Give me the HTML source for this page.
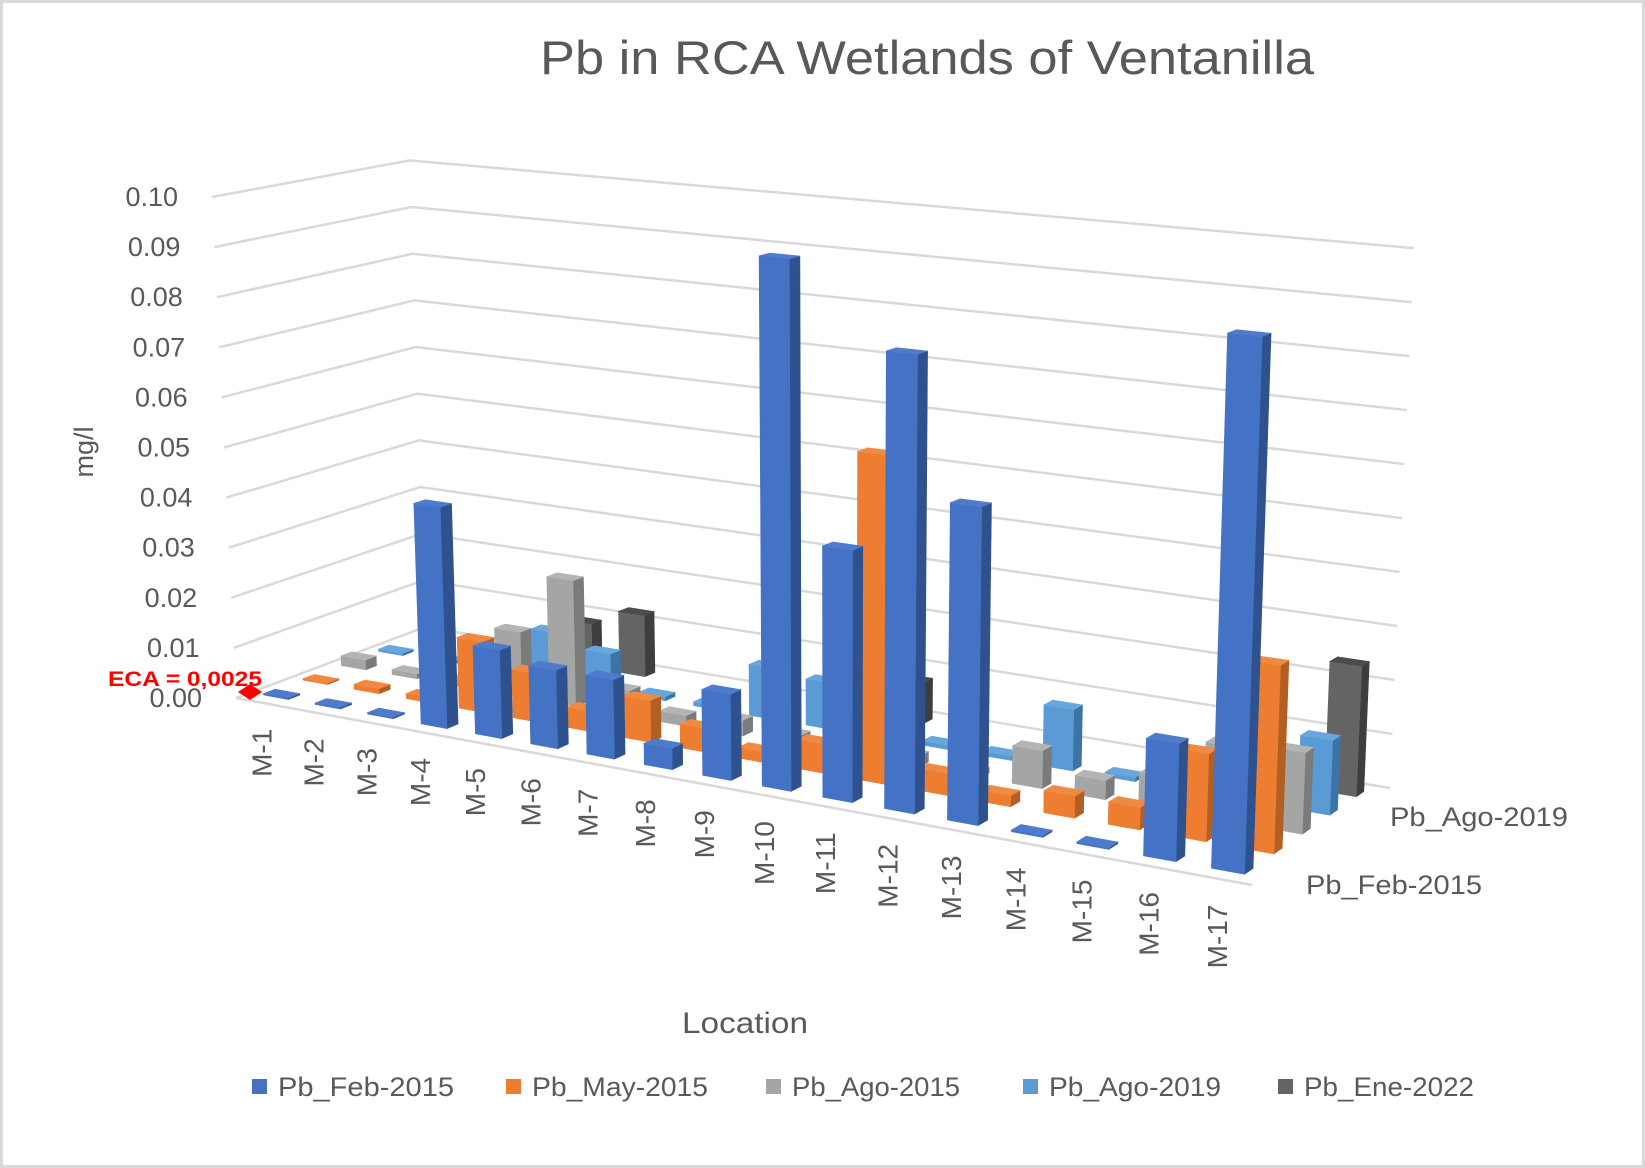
<!DOCTYPE html>
<html><head><meta charset="utf-8"><style>
html,body{margin:0;padding:0;background:#fff;}
svg{display:block;font-family:"Liberation Sans",sans-serif;}
</style></head><body>
<svg id="chart" width="1645" height="1168" viewBox="0 0 1645 1168" xmlns="http://www.w3.org/2000/svg">
<rect x="1.5" y="1.5" width="1642" height="1165" fill="#fff" stroke="#d9d9d9" stroke-width="3"/>
<text x="927" y="74" text-anchor="middle" font-size="47" fill="#595959" textLength="774" lengthAdjust="spacingAndGlyphs">Pb in RCA Wetlands of Ventanilla</text>
<g id="grid"></g>
<g id="ylabels"></g>
<text transform="translate(93,452) rotate(-90)" text-anchor="middle" font-size="27" fill="#595959">mg/l</text>
<g id="bars"></g>
<g id="xlabels"></g>
<text x="1306" y="894" font-size="27" fill="#595959" textLength="176" lengthAdjust="spacingAndGlyphs">Pb_Feb-2015</text>
<text x="1390" y="826" font-size="27" fill="#595959" textLength="178" lengthAdjust="spacingAndGlyphs">Pb_Ago-2019</text>
<text x="745" y="1033" text-anchor="middle" font-size="30" fill="#595959" textLength="126" lengthAdjust="spacingAndGlyphs">Location</text>
<text x="108" y="686" font-size="21" font-weight="bold" fill="#ff0000" textLength="154" lengthAdjust="spacingAndGlyphs">ECA = 0,0025</text>
<polygon points="238,692 250,684 262,692 250,700" fill="#ff0000"/>
<g id="legend"></g>
</svg>
<script>
const categories = ["M-1","M-2","M-3","M-4","M-5","M-6","M-7","M-8","M-9","M-10","M-11","M-12","M-13","M-14","M-15","M-16","M-17"];
const seriesNames = ["Pb_Feb-2015","Pb_May-2015","Pb_Ago-2015","Pb_Ago-2019","Pb_Ene-2022"];
const febValues2015 = [0.0003,0.0003,0.0003,0.043,0.017,0.015,0.015,0.004,0.016,0.098,0.046,0.083,0.057,0.0003,0.0003,0.0205,0.0925];
const mayValues2015 = [0.0003,0.001,0.001,0.014,0.0095,0.004,0.008,0.0045,0.002,0.0055,0.061,0.004,0.002,0.004,0.004,0.0155,0.033];
const agoValues2015 = [0.002,0.001,0.001,0.013,0.025,0.005,0.002,0.003,0.002,0.001,0.002,0.001,0.007,0.0035,0.006,0.0135,0.0145];
const agoValues2019 = [0.0005,0.0005,0,0.010,0.0075,0.0008,0.0008,0.010,0.009,0,0.0008,0.0008,0.0115,0.0008,0,0,0.0135];
const eneValues2022 = [0,0,0,0.009,0.0125,0,0,0,0,0.008,0,0,0,0,0,0,0.024];
const yTicks = [0,0.01,0.02,0.03,0.04,0.05,0.06,0.07,0.08,0.09,0.10];
const yTickLabels = ["0.00","0.01","0.02","0.03","0.04","0.05","0.06","0.07","0.08","0.09","0.10"];

const allSeries = [febValues2015, mayValues2015, agoValues2015, agoValues2019, eneValues2022];
const colors = [
  {f:"#4472C4",s:"#2F528F",t:"#4E7BCB"},
  {f:"#ED7D31",s:"#B35E22",t:"#F08A42"},
  {f:"#A5A5A5",s:"#7B7B7B",t:"#B4B4B4"},
  {f:"#5B9BD5",s:"#3C74A6",t:"#68A6DC"},
  {f:"#646464",s:"#3E3E3E",t:"#4C4C4C"}
];
const NS = "http://www.w3.org/2000/svg";
const P0=[236,698],P1=[1252,885],P2=[1390,788],P3=[425,627];
const dx1=P1[0]-P2[0],dx2=P3[0]-P2[0],dx3=P0[0]-P1[0]+P2[0]-P3[0];
const dy1=P1[1]-P2[1],dy2=P3[1]-P2[1],dy3=P0[1]-P1[1]+P2[1]-P3[1];
const den=dx1*dy2-dx2*dy1;
const g=(dx3*dy2-dx2*dy3)/den, h=(dx1*dy3-dx3*dy1)/den;
const a=P1[0]-P0[0]+g*P1[0], b=P3[0]-P0[0]+h*P3[0], c=P0[0];
const d=P1[1]-P0[1]+g*P1[1], e=P3[1]-P0[1]+h*P3[1], f=P0[1];
const S0=5010;
function proj(u,w,v){
  const D=g*u+h*w+1;
  let X=(a*u+b*w+c)/D, Y=(d*u+e*w+f)/D;
  const hp=v*S0/D;
  X+=(X-834)*8e-5*hp;
  Y-=hp;
  return [X,Y];
}
function pts(arr){return arr.map(p=>p[0].toFixed(1)+","+p[1].toFixed(1)).join(" ");}

const grid=document.getElementById("grid");
yTicks.forEach((v,i)=>{
  const pl=document.createElementNS(NS,"polyline");
  
  
  pl.setAttribute("points",pts([proj(0,0,v),proj(0,1,v),proj(1,1,v)]));
  pl.setAttribute("fill","none");pl.setAttribute("stroke","#d9d9d9");pl.setAttribute("stroke-width","2.5");
  grid.appendChild(pl);
  const p=proj(0,0,v);
  const t=document.createElementNS(NS,"text");
  
  
  t.setAttribute("x",(p[0]-34).toFixed(1));t.setAttribute("y",(p[1]+9).toFixed(1));
  t.setAttribute("text-anchor","end");t.setAttribute("font-size","27");t.setAttribute("fill","#595959");
  t.textContent=yTickLabels[i];
  document.getElementById("ylabels").appendChild(t);
});
const fl=document.createElementNS(NS,"polyline");


fl.setAttribute("points",pts([proj(0,0,0),proj(1,0,0)]));
fl.setAttribute("stroke","#d9d9d9");fl.setAttribute("stroke-width","2.5");fl.setAttribute("fill","none");
grid.appendChild(fl);

const N=categories.length, hu=0.24/N, hw=0.029;
const barsG=document.getElementById("bars");
for(let k=allSeries.length-1;k>=0;k--){
  for(let i=0;i<N;i++){
    const v=allSeries[k][i];
    if(!(v>0)) continue;
    const uc=(i+0.5)/N, wc=(k+0.5)/allSeries.length;
    const A0=proj(uc-hu,wc-hw,0),B0=proj(uc+hu,wc-hw,0),C0=proj(uc+hu,wc+hw,0);
    const A1=proj(uc-hu,wc-hw,v),B1=proj(uc+hu,wc-hw,v),C1=proj(uc+hu,wc+hw,v),D1=proj(uc-hu,wc+hw,v);
    const grp=document.createElementNS(NS,"g");
    
    
    [[ [B0,C0,C1,B1],colors[k].s ],[ [A0,B0,B1,A1],colors[k].f ],[ [A1,B1,C1,D1],colors[k].t ]].forEach(fc=>{
      const pg=document.createElementNS(NS,"polygon");
      pg.setAttribute("points",pts(fc[0]));pg.setAttribute("fill",fc[1]);
      pg.setAttribute("stroke",fc[1]);pg.setAttribute("stroke-width","0.6");
      grp.appendChild(pg);
    });
    barsG.appendChild(grp);
  }
}
const xl=document.getElementById("xlabels");
categories.forEach((cat,i)=>{
  const p=proj((i+0.5)/N,0,0);
  const t=document.createElementNS(NS,"text");
  
  
  t.setAttribute("transform","translate("+(p[0]+10).toFixed(1)+","+(p[1]+26).toFixed(1)+") rotate(-90)");
  t.setAttribute("text-anchor","end");t.setAttribute("font-size","28");t.setAttribute("fill","#595959");
  t.textContent=cat;
  xl.appendChild(t);
});
const lg=document.getElementById("legend");
const legX=[252,506,766,1023,1278];
const legW=[176,176,168,172,170];
seriesNames.forEach((nm,k)=>{
  const r=document.createElementNS(NS,"rect");
  
  
  r.setAttribute("x",legX[k]);r.setAttribute("y",1079);r.setAttribute("width",15);r.setAttribute("height",15);
  r.setAttribute("fill",colors[k].f);
  lg.appendChild(r);
  const t=document.createElementNS(NS,"text");
  
  
  t.setAttribute("x",legX[k]+26);t.setAttribute("y",1096);t.setAttribute("font-size","27");t.setAttribute("fill","#595959");
  t.setAttribute("textLength",legW[k]);t.setAttribute("lengthAdjust","spacingAndGlyphs");
  t.textContent=nm;
  lg.appendChild(t);
});
</script>
</body></html>
